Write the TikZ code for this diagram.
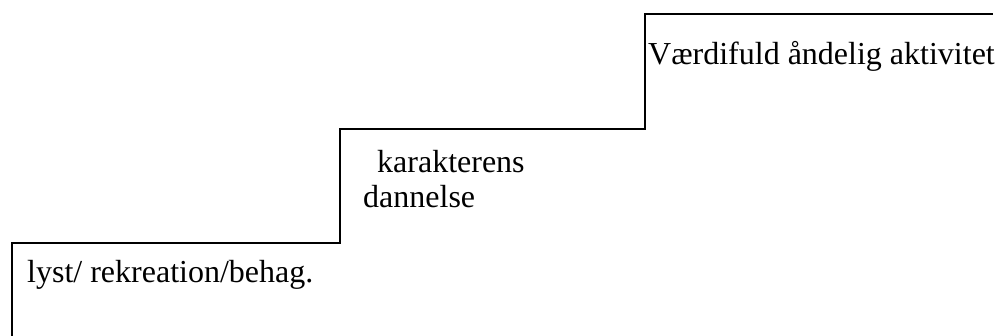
\documentclass[tikz,border=0pt]{standalone}
\usepackage{fontspec}
\setmainfont{Liberation Serif}
\usepackage{tikz}
\usetikzlibrary{positioning}

\begin{document}
\begin{tikzpicture}[x=1pt,y=-1pt,
		trin/.style={line width=2pt},
		tekst/.style={anchor=base west,inner sep=0pt,font=\fontsize{32}{38}\selectfont}]
		\useasboundingbox (0,0) rectangle (999,336);
		
		\coordinate (b0) at (12,336);
		\coordinate (b1) at (12,243);
		\coordinate (b2) at (340,243);
		\coordinate (b3) at (340,129);
		\coordinate (b4) at (645,129);
		\coordinate (b5) at (645,14);
		\coordinate (b6) at (993,14);
		
		\node[tekst] (lyst) at (27,283) {lyst/ rekreation/behag.};
		\node[tekst] (karakter) at (377,173) {karakterens};
		\node[tekst] (dannelse) at (363,208) {dannelse};
		\node[tekst] (vaerdi) at (648,65) {Værdifuld åndelig aktivitet};
		
		\draw[trin] (b0) -- (b1) -- (b2) -- (b3) -- (b4) -- (b5) -- (b6);
		\end{tikzpicture}
\end{document}
